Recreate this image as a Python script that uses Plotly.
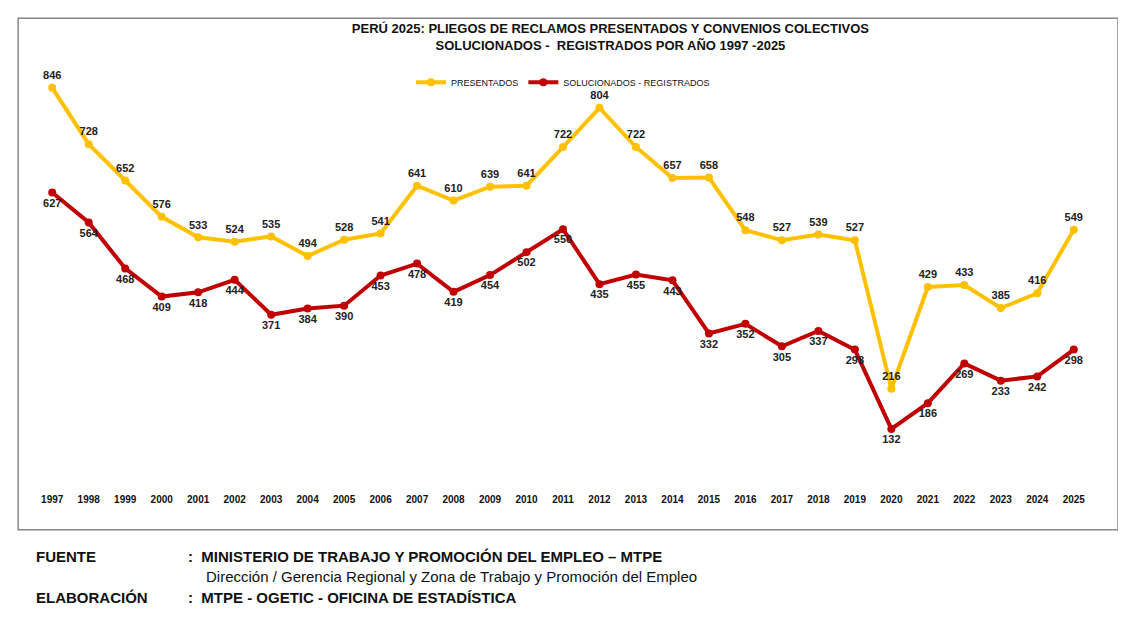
import plotly.graph_objects as go

years = list(range(1997, 2026))
presentados = [846,728,652,576,533,524,535,494,528,541,641,610,639,641,722,804,722,657,658,548,527,539,527,216,429,433,385,416,549]
solucionados = [627,564,468,409,418,444,371,384,390,453,478,419,454,502,550,435,455,443,332,352,305,337,298,132,186,269,233,242,298]

fig = go.Figure()
fig.add_trace(go.Scatter(x=years, y=presentados, mode="lines+markers+text", name="PRESENTADOS",
    line=dict(color="#FFC000", width=4), marker=dict(size=8, color="#FFC000"),
    text=[str(v) for v in presentados], texttemplate="<b>%{text}</b>", textposition="top center",
    textfont=dict(size=11, color="#222")))
fig.add_trace(go.Scatter(x=years, y=solucionados, mode="lines+markers+text", name="SOLUCIONADOS - REGISTRADOS",
    line=dict(color="#C00000", width=4), marker=dict(size=8, color="#C00000"),
    text=[str(v) for v in solucionados], texttemplate="<b>%{text}</b>", textposition="bottom center",
    textfont=dict(size=11, color="#222")))

fig.update_layout(
    width=1126, height=617, plot_bgcolor="white", paper_bgcolor="white",
    margin=dict(l=26, r=42, t=54, b=133, autoexpand=False),
    font=dict(family="Liberation Sans, Arial", color="#111"),
    title=dict(text="<b>PERÚ 2025: PLIEGOS DE RECLAMOS PRESENTADOS Y CONVENIOS COLECTIVOS<br>SOLUCIONADOS -  REGISTRADOS POR AÑO 1997 -2025</b>",
               x=0.535, y=0.96, xanchor="center", yanchor="top", font=dict(size=13)),
    legend=dict(orientation="h", x=0.5, xanchor="center", y=0.953, yanchor="middle",
                font=dict(size=9), bgcolor="rgba(0,0,0,0)"),
    xaxis=dict(range=[1996.5, 2025.5], tickmode="array", tickvals=years, ticktext=[f"<b>{y}</b>" for y in years],
               tickfont=dict(size=10), showgrid=False, showline=False, zeroline=False, ticks=""),
    yaxis=dict(range=[0, 900], visible=False),
    shapes=[dict(type="rect", xref="paper", yref="paper", x0=-0.015, x1=1.0246, y0=-0.088, y1=1.102,
                 line=dict(color="#888", width=1.5))],
    annotations=[
        dict(text="<b>FUENTE</b>", xref="paper", yref="paper", x=0, y=-0.174, xanchor="left", showarrow=False, font=dict(size=15)),
        dict(text="<b>:  MINISTERIO DE TRABAJO Y PROMOCIÓN DEL EMPLEO – MTPE</b>", xref="paper", yref="paper", x=0.144, y=-0.174, xanchor="left", showarrow=False, font=dict(size=15)),
        dict(text="Dirección / Gerencia Regional y Zona de Trabajo y Promoción del Empleo", xref="paper", yref="paper", x=0.161, y=-0.221, xanchor="left", showarrow=False, font=dict(size=15)),
        dict(text="<b>ELABORACIÓN</b>", xref="paper", yref="paper", x=0, y=-0.27, xanchor="left", showarrow=False, font=dict(size=15)),
        dict(text="<b>:  MTPE - OGETIC - OFICINA DE ESTADÍSTICA</b>", xref="paper", yref="paper", x=0.144, y=-0.27, xanchor="left", showarrow=False, font=dict(size=15)),
    ],
)
fig.write_html("out.html")
